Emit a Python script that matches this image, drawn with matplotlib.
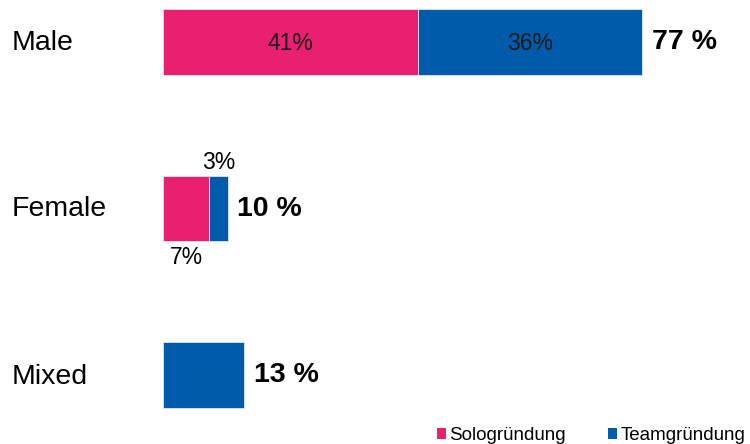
import matplotlib
matplotlib.use("Agg")
import matplotlib.pyplot as plt
from matplotlib.patches import Patch

categories = ["Male", "Female", "Mixed"]
solo = [41, 7.4, 0]
team = [36, 3.0, 13]
solo_labels = ["41%", "7%", ""]
team_labels = ["36%", "3%", ""]
series_names = ["Sologründung", "Teamgründung"]

pink = "#E8206F"
blue = "#005BAA"

plt.rcParams["font.family"] = ["Liberation Sans", "DejaVu Sans"]

fig = plt.figure(figsize=(7.5, 4.44), dpi=100)
ax = fig.add_axes([163 / 750, 0, 1 - 163 / 750, 1])
px_per_unit = 6.22
ax.set_xlim(0, (750 - 163) / px_per_unit)
ax.set_ylim(2 + 69 / 166.5, -42 / 166.5)
ax.axis("off")

ypos = list(range(len(categories)))
h = 0.396
ax.barh(ypos, solo, height=h, color=pink, edgecolor="#dfe8f3", linewidth=0.6)
ax.barh(ypos, team, left=solo, height=h, color=blue, edgecolor="#dfe8f3", linewidth=0.6)

for i, cat in enumerate(categories):
    fig.text(12 / 750, 1 - [43, 209, 377][i] / 444, cat, fontsize=20.5,
             va="center", ha="left", transform=fig.transFigure)

# inner labels for Male
ax.text(solo[0] / 2, 0.01, solo_labels[0], ha="center", va="center", fontsize=16.5, color="#1a1a1a")
ax.text(solo[0] + team[0] / 2, 0.01, team_labels[0], ha="center", va="center", fontsize=16.5, color="#1a1a1a")
# outside labels for Female
ax.text(solo[1] + team[1] / 2, 1 - h / 2 - 0.01, team_labels[1], ha="center", va="bottom", fontsize=16.5)
ax.text(solo[1] / 2, 1 + h / 2 + 0.03, solo_labels[1], ha="center", va="top", fontsize=16.5)

for i in ypos:
    total = solo[i] + team[i]
    ax.annotate(f"{total:.0f} %", (total, i), xytext=(7, 0), textcoords="offset points",
                ha="left", va="center", fontsize=20.5, fontweight="bold")

handles = [Patch(facecolor=pink, edgecolor="none"), Patch(facecolor=blue, edgecolor="none")]
fig.legend(handles, series_names, loc="lower right", bbox_to_anchor=(1.016, -0.039), ncol=2,
           frameon=False, fontsize=13.5, handlelength=0.5, handleheight=0.5,
           handletextpad=0.15, columnspacing=2.25)

fig.savefig("out.png", dpi=100)
